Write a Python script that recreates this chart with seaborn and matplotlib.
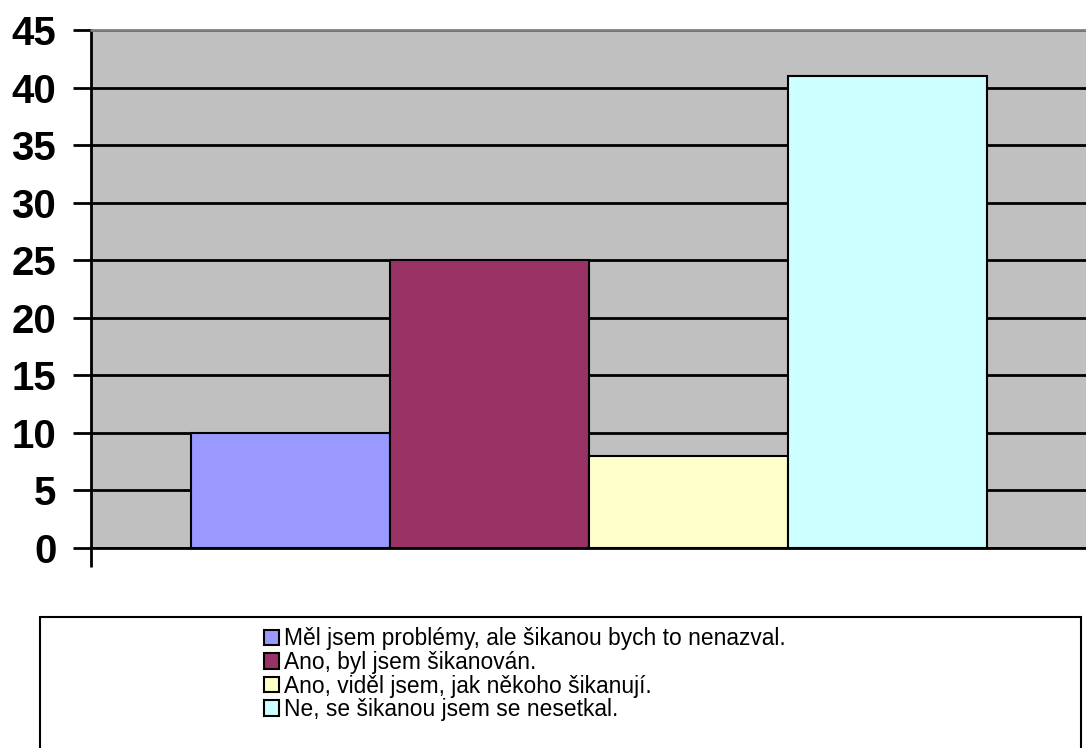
import matplotlib
import matplotlib.pyplot as plt
import pandas as pd
import seaborn as sns
from matplotlib.patches import Rectangle

answers = [
    "Měl jsem problémy, ale šikanou bych to nenazval.",
    "Ano, byl jsem šikanován.",
    "Ano, viděl jsem, jak někoho šikanují.",
    "Ne, se šikanou jsem se nesetkal.",
]
counts = [10, 25, 8, 41]
colors = ["#9999FF", "#993366", "#FFFFCC", "#CCFFFF"]
yticks = [0, 5, 10, 15, 20, 25, 30, 35, 40, 45]

sns.set_style("white")
matplotlib.rcParams["font.family"] = ["Liberation Sans", "DejaVu Sans"]
matplotlib.rcParams["text.color"] = "black"
matplotlib.rcParams["ytick.color"] = "black"
matplotlib.rcParams["xtick.color"] = "black"

data = pd.DataFrame({"group": ["" for _ in answers], "answer": answers, "count": counts})

fig = plt.figure(figsize=(10.86, 7.48), dpi=100)
ax = fig.add_axes([91 / 1086, 1 - 548 / 748, 1 - 91 / 1086, (548 - 30) / 748])
ax.set_facecolor("#C0C0C0")

sns.barplot(
    data,
    x="group",
    y="count",
    hue="answer",
    hue_order=answers,
    palette=colors,
    width=0.8,
    gap=0,
    edgecolor="black",
    linewidth=1.5,
    saturation=1,
    ax=ax,
)
handles, labels = ax.get_legend_handles_labels()
ax.get_legend().remove()

ax.set_xlim(-0.5, 0.5)
ax.set_ylim(0, 45)
ax.set_yticks(yticks)
ax.set_yticklabels([str(t) for t in yticks], fontsize=29, fontweight="bold", color="black")
ax.set_xticks([-0.5])
ax.set_xticklabels([""])
ax.set(xlabel="", ylabel="")
ax.tick_params(axis="y", direction="out", length=13, width=2, pad=12, left=True)
ax.tick_params(axis="x", direction="out", length=14, width=2, bottom=True)

ax.set_axisbelow(True)
ax.yaxis.grid(True, color="black", linewidth=2)
ax.xaxis.grid(False)
for side in ["top", "right"]:
    ax.spines[side].set_visible(False)
ax.spines["left"].set_linewidth(2)
ax.spines["left"].set_color("black")
ax.spines["bottom"].set_linewidth(2)
ax.spines["bottom"].set_color("black")
ax.axhline(45, color="#808080", linewidth=2, clip_on=False, zorder=3)

# legend box
fig.patches.append(
    Rectangle(
        (40 / 1086, -0.01),
        (1081 - 40) / 1086,
        1 - 617 / 748 + 0.01,
        transform=fig.transFigure,
        facecolor="white",
        edgecolor="black",
        linewidth=1.5,
    )
)
leg = fig.legend(
    handles,
    labels,
    loc="upper left",
    bbox_to_anchor=(253 / 1086, 1 - 616 / 748),
    frameon=False,
    fontsize=16.4,
    handlelength=0.65,
    handleheight=0.65,
    handletextpad=0.2,
    labelspacing=0.025,
    borderpad=0,
)
for t in leg.get_texts():
    t.set_color("black")

plt.savefig("out.png", dpi=100)
plt.close()
